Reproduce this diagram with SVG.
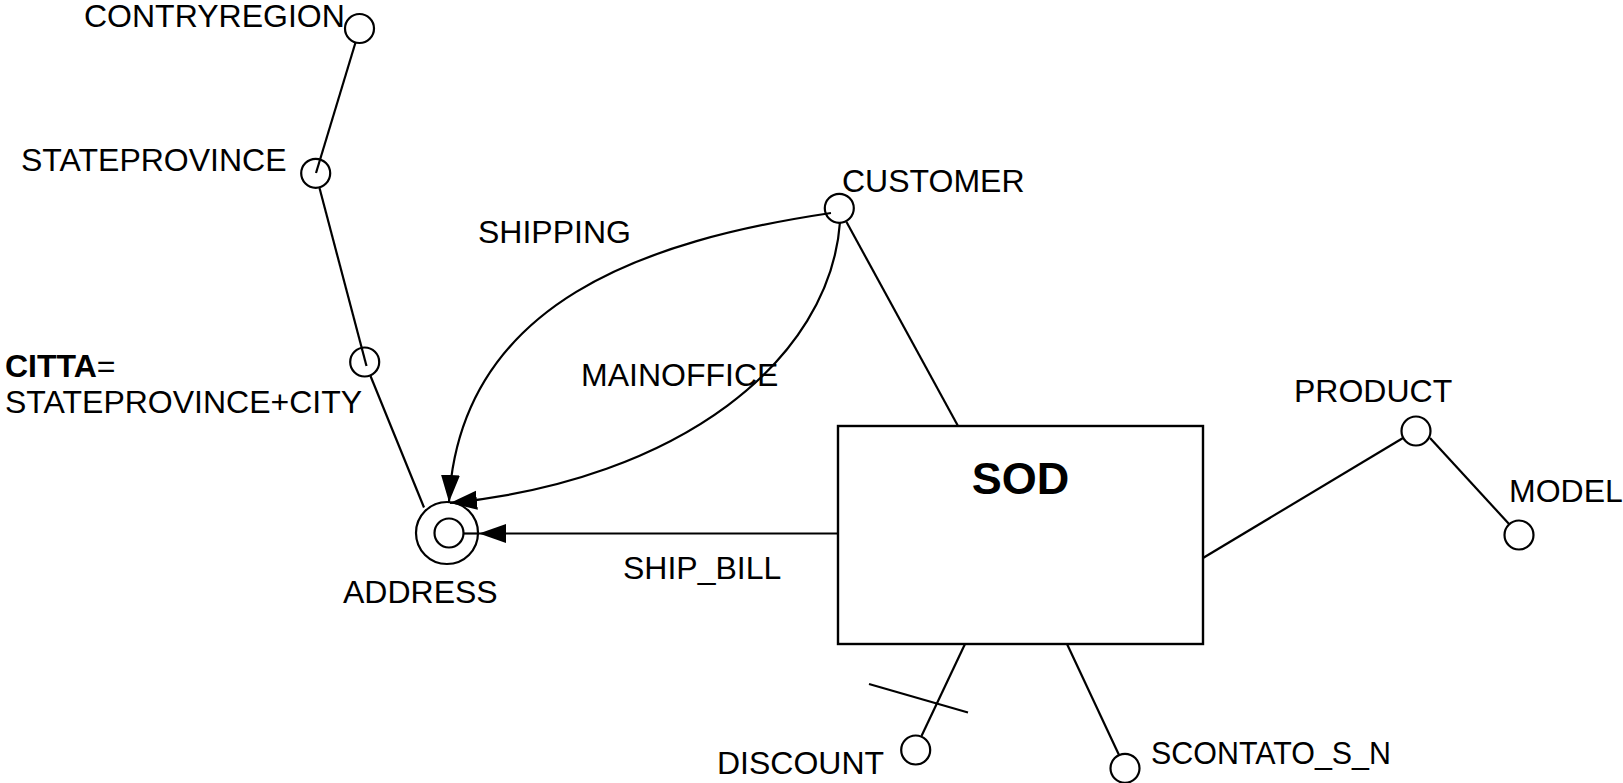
<svg xmlns="http://www.w3.org/2000/svg" width="1623" height="783" viewBox="0 0 1623 783">
  <style>
    text { font-family: "Liberation Sans", Arial, Helvetica, sans-serif; font-size: 32px; fill: #000; }
    .title { font-size: 45px; font-weight: bold; }
    .b { font-weight: bold; }
    .attr { fill: none; stroke: #000; stroke-width: 2.2; }
    .entity { fill: #fff; stroke: #000; stroke-width: 2.4; }
    .link { fill: none; stroke: #000; stroke-width: 2.2; }
  </style>
  <defs>
    <marker id="arrow" markerUnits="userSpaceOnUse" markerWidth="28" markerHeight="20" refX="27" refY="9.5" orient="auto">
      <path d="M0,0 L27,9.5 L0,19 z" fill="#000"/>
    </marker>
  </defs>

  <rect width="1623" height="783" fill="#fff"/>

  <!-- connectors -->
  <g id="connectors">
    <line class="link" x1="355.5" y1="42.5" x2="316" y2="173"/>
    <line class="link" x1="319.5" y1="188" x2="366.5" y2="366"/>
    <line class="link" x1="370.5" y1="376" x2="424" y2="507.5"/>
    <line class="link" x1="846.5" y1="222" x2="958" y2="426"/>
    <line class="link" x1="1203" y1="558" x2="1403" y2="438"/>
    <line class="link" x1="1430" y1="438" x2="1509.5" y2="524.5"/>
    <line class="link" x1="965" y1="644" x2="921.5" y2="736"/>
    <line class="link" x1="869" y1="684" x2="968" y2="712.5"/>
    <line class="link" x1="1067" y1="644" x2="1119" y2="755"/>
    <!-- SHIPPING -->
    <path class="link" d="M831,213 C650,240 460,300 449,502" marker-end="url(#arrow)"/>
    <!-- MAINOFFICE -->
    <path class="link" d="M840,222 C830,360 680,480 450,503" marker-end="url(#arrow)"/>
    <!-- SHIP_BILL -->
    <line class="link" x1="838" y1="533.5" x2="479" y2="533.5" marker-end="url(#arrow)"/>
    <line class="link" x1="479" y1="533.5" x2="464" y2="533.5"/>
    <text x="478" y="243">SHIPPING</text>
    <text x="581" y="386">MAINOFFICE</text>
    <text x="623" y="579">SHIP_BILL</text>
  </g>

  <g id="sod">
    <rect class="entity" x="838" y="426" width="365" height="218"/>
    <text class="title" x="1020.5" y="494" text-anchor="middle">SOD</text>
  </g>

  <g id="address">
    <circle class="attr" cx="447" cy="533" r="31"/>
    <circle class="attr" cx="449" cy="533" r="14.5"/>
    <text x="343" y="603">ADDRESS</text>
  </g>

  <g id="contryregion">
    <circle class="attr" cx="359.5" cy="28.5" r="14.5"/>
    <text x="84" y="27">CONTRYREGION</text>
  </g>

  <g id="stateprovince">
    <circle class="attr" cx="315.7" cy="173.3" r="14.5"/>
    <text x="21" y="171">STATEPROVINCE</text>
  </g>

  <g id="citta">
    <circle class="attr" cx="364.7" cy="362" r="14.5"/>
    <text x="5" y="377"><tspan class="b">CITTA</tspan>=</text>
    <text x="5" y="413">STATEPROVINCE+CITY</text>
  </g>

  <g id="customer">
    <circle class="attr" cx="839.3" cy="208.3" r="14.5"/>
    <text x="842" y="192">CUSTOMER</text>
  </g>

  <g id="product">
    <circle class="attr" cx="1416" cy="431" r="14.5"/>
    <text x="1294" y="402">PRODUCT</text>
  </g>

  <g id="model">
    <circle class="attr" cx="1519" cy="535" r="14.5"/>
    <text x="1509" y="502">MODEL</text>
  </g>

  <g id="discount">
    <circle class="attr" cx="915.7" cy="750" r="14.5"/>
    <text x="717" y="774">DISCOUNT</text>
  </g>

  <g id="scontato_s_n">
    <circle class="attr" cx="1125" cy="768.3" r="14.5"/>
    <text x="1151" y="764" textLength="240" lengthAdjust="spacingAndGlyphs">SCONTATO_S_N</text>
  </g>
</svg>
